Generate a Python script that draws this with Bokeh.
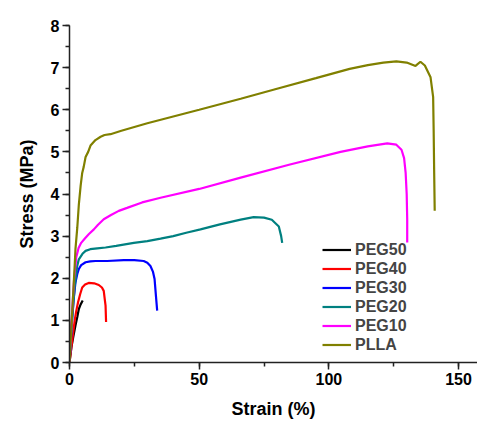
from bokeh.plotting import figure
from bokeh.models import Range1d, SingleIntervalTicker, Legend, LegendItem
from bokeh.embed import file_html
from bokeh.resources import INLINE

# Strain (%) / Stress (MPa)
plla_x = [0, 1, 2, 2.3, 3.0, 3.6, 4.3, 4.9, 5.5, 6.2, 7.2, 8.1, 10, 12, 13.5, 15.8, 20, 30, 40, 50, 66, 80, 95, 108, 115, 121, 126, 130, 133.4, 135.3, 137, 139.2, 140.2, 140.4, 140.6, 140.8]
plla_y = [0, 1.15, 2.3, 2.69, 3.2, 3.75, 4.2, 4.5, 4.65, 4.88, 5.0, 5.15, 5.28, 5.36, 5.4, 5.42, 5.5, 5.68, 5.84, 6.0, 6.26, 6.5, 6.75, 6.97, 7.06, 7.12, 7.15, 7.12, 7.04, 7.14, 7.05, 6.77, 6.3, 5.5, 4.5, 3.6]

peg10_x = [0, 0.5, 1, 1.8, 2.6, 3.5, 4.5, 6.0, 7.5, 9.4, 11, 13.2, 16, 19, 22.2, 28, 35.1, 50, 66, 85, 104.5, 115, 122.5, 126, 128, 129, 129.6, 130, 130.2, 130.2]
peg10_y = [0, 0.6, 1.2, 2.0, 2.5, 2.72, 2.84, 2.95, 3.05, 3.16, 3.27, 3.40, 3.5, 3.6, 3.67, 3.8, 3.91, 4.12, 4.39, 4.7, 5.0, 5.13, 5.2, 5.17, 5.05, 4.85, 4.5, 4.0, 3.4, 2.85]

peg20_x = [0, 0.5, 1, 2, 3, 3.6, 5, 6.2, 8, 10.7, 13.9, 18, 24.8, 30, 35.1, 40, 45, 50.5, 58, 66, 71, 75, 78, 80.7, 81.6, 82]
peg20_y = [0, 0.55, 1.05, 1.8, 2.3, 2.45, 2.58, 2.65, 2.69, 2.71, 2.73, 2.77, 2.84, 2.88, 2.94, 3.0, 3.08, 3.16, 3.28, 3.39, 3.45, 3.44, 3.39, 3.23, 3.0, 2.84]

peg30_x = [0, 0.5, 1, 1.6, 2.3, 3.0, 3.6, 4.5, 6.2, 8, 10, 14.5, 20.9, 25, 28.6, 30, 31.2, 32.2, 32.8, 33.3, 33.8]
peg30_y = [0, 0.5, 1.0, 1.5, 1.9, 2.1, 2.22, 2.31, 2.38, 2.4, 2.41, 2.41, 2.43, 2.43, 2.41, 2.37, 2.29, 2.15, 1.98, 1.6, 1.23]

peg40_x = [0, 0.7, 1.4, 2.0, 2.6, 3.3, 4.1, 4.9, 6.0, 7.4, 9.5, 11.3, 12.5, 13.2, 13.6, 13.9, 14.1]
peg40_y = [0, 0.35, 0.7, 1.0, 1.22, 1.43, 1.62, 1.78, 1.85, 1.89, 1.88, 1.84, 1.78, 1.70, 1.5, 1.35, 0.96]

peg50_x = [0, 0.7, 1.5, 2.3, 3.0, 3.6, 4.3, 5.1]
peg50_y = [0, 0.35, 0.62, 0.88, 1.08, 1.27, 1.38, 1.47]

names = ["PEG50", "PEG40", "PEG30", "PEG20", "PEG10", "PLLA"]
colors = ["#000000", "#FF0000", "#0000FF", "#008080", "#FF00FF", "#808000"]
xs = [peg50_x, peg40_x, peg30_x, peg20_x, peg10_x, plla_x]
ys = [peg50_y, peg40_y, peg30_y, peg20_y, peg10_y, plla_y]

FONT = "Liberation Sans"

p = figure(width=477, height=421, output_backend="svg", toolbar_location=None,
           x_range=Range1d(0, 157.3), y_range=Range1d(0, 8),
           min_border_left=69, min_border_right=0, min_border_top=25, min_border_bottom=57)
p.outline_line_color = None
p.xgrid.visible = False
p.ygrid.visible = False
p.background_fill_color = "white"
p.border_fill_color = "white"

renderers = []
for xv, yv, c in zip(xs, ys, colors):
    r = p.line(xv, yv, line_color=c, line_width=2.2)
    renderers.append(r)

p.xaxis.ticker = SingleIntervalTicker(interval=50, num_minor_ticks=2)
p.yaxis.ticker = SingleIntervalTicker(interval=1, num_minor_ticks=2)
for ax in (p.xaxis[0], p.yaxis[0]):
    ax.axis_line_width = 1.5
    ax.axis_line_color = "#222222"
    ax.major_tick_line_width = 1.5
    ax.minor_tick_line_width = 1.5
    ax.major_tick_line_color = "#222222"
    ax.minor_tick_line_color = "#222222"
    ax.major_tick_in = 0
    ax.major_tick_out = 7
    ax.minor_tick_in = 0
    ax.minor_tick_out = 4
    ax.major_label_text_font = FONT
    ax.major_label_text_font_style = "bold"
    ax.major_label_text_font_size = "16px"
    ax.major_label_text_color = "black"
    ax.major_label_standoff = 3
    ax.axis_label_text_font = FONT
    ax.axis_label_text_font_style = "bold"
    ax.axis_label_text_font_size = "18px"
    ax.axis_label_text_color = "black"

p.xaxis.axis_label = "Strain (%)"
p.yaxis.axis_label = "Stress (MPa)"
p.xaxis.axis_label_standoff = 11
p.yaxis.axis_label_standoff = 11

items = [LegendItem(label=n, renderers=[r]) for n, r in zip(names, renderers)]
legend = Legend(items=items, location=(253, 8), padding=0, margin=0,
                spacing=0, glyph_width=29, glyph_height=19, label_height=19,
                label_standoff=4, border_line_color=None, background_fill_alpha=0,
                label_text_font=FONT, label_text_font_style="bold",
                label_text_font_size="16px")
p.add_layout(legend)

open("out.html", "w").write(file_html(p, INLINE))
